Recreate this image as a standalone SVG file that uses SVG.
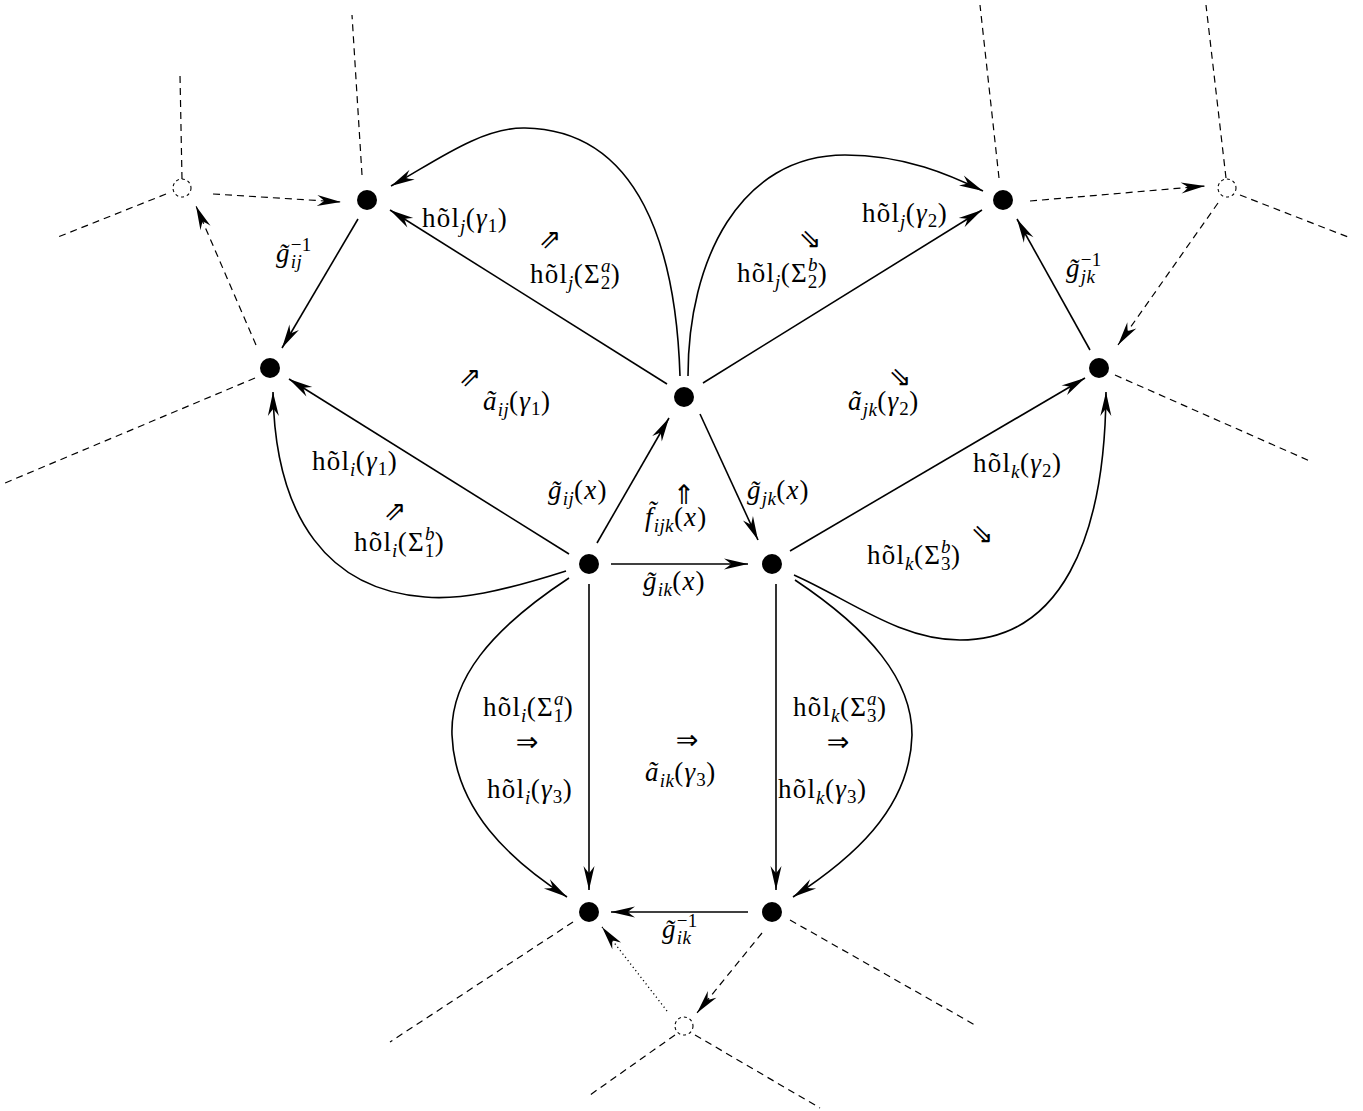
<svg xmlns="http://www.w3.org/2000/svg" width="1363" height="1111" viewBox="0 0 1363 1111">
<style>
.bg{fill:#fff}
.e{fill:none;stroke:#000;stroke-width:1.6}
.d{fill:none;stroke:#000;stroke-width:1.2;stroke-dasharray:7 5}
.o{fill:none;stroke:#000;stroke-width:1.3;stroke-dasharray:1.2 3}
.n{fill:#000}
.p{fill:#fff;stroke:#000;stroke-width:1.1;stroke-dasharray:3 3}
.t{font-size:27px;letter-spacing:1.2px;fill:#000}
.i{font-style:italic}
.u{font-style:normal}
.sb{font-size:19px;letter-spacing:0.4px}
.ar{font-family:'DejaVu Sans',sans-serif;font-size:27px;text-anchor:middle;dominant-baseline:central;fill:#000}
</style>
<defs>
<marker id="ah" viewBox="-26 -7 28 14" refX="0" refY="0" markerWidth="28" markerHeight="14" markerUnits="userSpaceOnUse" orient="auto">
<path d="M0,0 L-24,-5.5 Q-18,-1.2 -17,0 Q-18,1.2 -24,5.5 Z" fill="#000"/>
</marker>
</defs>
<rect class="bg" x="0" y="0" width="1363" height="1111"/>
<g id="connectors">
<line class="d" x1="362" y1="175" x2="352" y2="15"/>
<line class="d" x1="182" y1="179" x2="180" y2="75"/>
<line class="d" x1="166" y1="194" x2="58" y2="237"/>
<line class="d" x1="213" y1="194" x2="341" y2="202" marker-end="url(#ah)"/>
<line class="d" x1="256" y1="345" x2="196" y2="206" marker-end="url(#ah)"/>
<line class="d" x1="255" y1="378" x2="5" y2="483"/>
<line class="d" x1="999" y1="178" x2="980" y2="5"/>
<line class="d" x1="1030" y1="201" x2="1205" y2="186" marker-end="url(#ah)"/>
<line class="d" x1="1226" y1="178" x2="1206" y2="5"/>
<line class="d" x1="1240" y1="195" x2="1348" y2="237"/>
<line class="d" x1="1218" y1="203" x2="1118" y2="345" marker-end="url(#ah)"/>
<line class="d" x1="1115" y1="375" x2="1312" y2="462"/>
<line class="d" x1="573" y1="922" x2="390" y2="1042"/>
<line class="o" x1="667" y1="1011" x2="602" y2="927" marker-end="url(#ah)"/>
<line class="d" x1="762" y1="933" x2="697" y2="1013" marker-end="url(#ah)"/>
<line class="d" x1="790" y1="920" x2="975" y2="1025"/>
<line class="d" x1="675" y1="1035" x2="590" y2="1095"/>
<line class="d" x1="695" y1="1035" x2="820" y2="1108"/>
<line class="e" x1="597" y1="543" x2="669" y2="418" marker-end="url(#ah)"/>
<line class="e" x1="700" y1="414" x2="758" y2="540" marker-end="url(#ah)"/>
<line class="e" x1="611" y1="564" x2="748" y2="564" marker-end="url(#ah)"/>
<line class="e" x1="569" y1="554" x2="289" y2="379" marker-end="url(#ah)"/>
<path class="e" d="M566,571 C500,592 460,600 425,597 C330,590 275,520 273,392" marker-end="url(#ah)"/>
<line class="e" x1="667" y1="384" x2="390" y2="210" marker-end="url(#ah)"/>
<path class="e" d="M680,376 C676,250 640,130 525,128 C480,127 430,165 391,186" marker-end="url(#ah)"/>
<line class="e" x1="358" y1="219" x2="282" y2="348" marker-end="url(#ah)"/>
<line class="e" x1="703" y1="383" x2="982" y2="210" marker-end="url(#ah)"/>
<path class="e" d="M688,376 C688,260 740,155 845,155 C905,155 950,175 983,191" marker-end="url(#ah)"/>
<line class="e" x1="1090" y1="350" x2="1017" y2="219" marker-end="url(#ah)"/>
<line class="e" x1="790" y1="551" x2="1085" y2="378" marker-end="url(#ah)"/>
<path class="e" d="M794,575 C850,600 900,640 960,640 C1060,640 1105,540 1106,392" marker-end="url(#ah)"/>
<line class="e" x1="589" y1="584" x2="589" y2="890" marker-end="url(#ah)"/>
<path class="e" d="M569,578 C490,630 450,680 452,735 C455,810 510,860 567,897" marker-end="url(#ah)"/>
<line class="e" x1="776" y1="584" x2="776" y2="890" marker-end="url(#ah)"/>
<path class="e" d="M795,580 C870,630 912,680 912,735 C910,810 850,860 793,897" marker-end="url(#ah)"/>
<line class="e" x1="748" y1="912" x2="611" y2="912" marker-end="url(#ah)"/>
</g>
<g id="nodes">
<g id="n-i"><circle class="n" cx="589" cy="564" r="10"/></g>
<g id="n-j"><circle class="n" cx="684" cy="397" r="10"/></g>
<g id="n-k"><circle class="n" cx="772" cy="564" r="10"/></g>
<g id="n-j1"><circle class="n" cx="367" cy="200" r="10"/></g>
<g id="n-i1"><circle class="n" cx="270" cy="368" r="10"/></g>
<g id="n-j2"><circle class="n" cx="1003" cy="200" r="10"/></g>
<g id="n-k2"><circle class="n" cx="1099" cy="368" r="10"/></g>
<g id="n-i3"><circle class="n" cx="589" cy="912" r="10"/></g>
<g id="n-k3"><circle class="n" cx="772" cy="912" r="10"/></g>
<g id="p1"><circle class="p" cx="182" cy="188" r="9"/></g>
<g id="p2"><circle class="p" cx="1227" cy="188" r="9"/></g>
<g id="p3"><circle class="p" cx="684" cy="1026" r="9"/></g>
</g>
<g id="labels" font-family="Liberation Serif, Times New Roman, DejaVu Serif, serif">
<text class="t" x="422" y="227">hõl<tspan class="i sb" dy="6">j</tspan><tspan dy="-6">(</tspan><tspan class="i">γ</tspan><tspan class="sb" dy="5">1</tspan><tspan dy="-5">)</tspan></text>
<text class="ar" x="550" y="238">⇗</text>
<text class="t" x="530" y="283">hõl<tspan class="i sb" dy="6">j</tspan><tspan dy="-6">(Σ</tspan><tspan class="i sb" dy="-11">a</tspan><tspan class="sb" dx="-10" dy="17">2</tspan><tspan dy="-6">)</tspan></text>
<text class="ar" x="810" y="238">⇘</text>
<text class="t" x="737" y="282">hõl<tspan class="i sb" dy="6">j</tspan><tspan dy="-6">(Σ</tspan><tspan class="i sb" dy="-11">b</tspan><tspan class="sb" dx="-10" dy="17">2</tspan><tspan dy="-6">)</tspan></text>
<text class="t" x="862" y="222">hõl<tspan class="i sb" dy="6">j</tspan><tspan dy="-6">(</tspan><tspan class="i">γ</tspan><tspan class="sb" dy="5">2</tspan><tspan dy="-5">)</tspan></text>
<text class="t i" x="276" y="262">g&#x303;<tspan class="sb u" dy="-11">−1</tspan><tspan class="sb" dx="-21" dy="17">ij</tspan></text>
<text class="t i" x="1066" y="277">g&#x303;<tspan class="sb u" dy="-11">−1</tspan><tspan class="sb" dx="-21" dy="17">jk</tspan></text>
<text class="ar" x="470" y="376">⇗</text>
<text class="t" x="483" y="410"><tspan class="i">ã</tspan><tspan class="i sb" dy="6">ij</tspan><tspan dy="-6">(</tspan><tspan class="i">γ</tspan><tspan class="sb" dy="5">1</tspan><tspan dy="-5">)</tspan></text>
<text class="ar" x="900" y="376">⇘</text>
<text class="t" x="848" y="410"><tspan class="i">ã</tspan><tspan class="i sb" dy="6">jk</tspan><tspan dy="-6">(</tspan><tspan class="i">γ</tspan><tspan class="sb" dy="5">2</tspan><tspan dy="-5">)</tspan></text>
<text class="t" x="312" y="470">hõl<tspan class="i sb" dy="6">i</tspan><tspan dy="-6">(</tspan><tspan class="i">γ</tspan><tspan class="sb" dy="5">1</tspan><tspan dy="-5">)</tspan></text>
<text class="ar" x="395" y="510">⇗</text>
<text class="t" x="354" y="551">hõl<tspan class="i sb" dy="6">i</tspan><tspan dy="-6">(Σ</tspan><tspan class="i sb" dy="-11">b</tspan><tspan class="sb" dx="-10" dy="17">1</tspan><tspan dy="-6">)</tspan></text>
<text class="t" x="548" y="499"><tspan class="i">g&#x303;</tspan><tspan class="i sb" dy="6">ij</tspan><tspan dy="-6">(</tspan><tspan class="i">x</tspan>)</text>
<text class="ar" x="684" y="494">⇑</text>
<text class="t" x="645" y="526"><tspan class="i">f&#x303;</tspan><tspan class="i sb" dy="6">ijk</tspan><tspan dy="-6">(</tspan><tspan class="i">x</tspan>)</text>
<text class="t" x="747" y="499"><tspan class="i">g&#x303;</tspan><tspan class="i sb" dy="6">jk</tspan><tspan dy="-6">(</tspan><tspan class="i">x</tspan>)</text>
<text class="t" x="643" y="590"><tspan class="i">g&#x303;</tspan><tspan class="i sb" dy="6">ik</tspan><tspan dy="-6">(</tspan><tspan class="i">x</tspan>)</text>
<text class="t" x="973" y="472">hõl<tspan class="i sb" dy="6">k</tspan><tspan dy="-6">(</tspan><tspan class="i">γ</tspan><tspan class="sb" dy="5">2</tspan><tspan dy="-5">)</tspan></text>
<text class="ar" x="982" y="533">⇘</text>
<text class="t" x="867" y="564">hõl<tspan class="i sb" dy="6">k</tspan><tspan dy="-6">(Σ</tspan><tspan class="i sb" dy="-11">b</tspan><tspan class="sb" dx="-10" dy="17">3</tspan><tspan dy="-6">)</tspan></text>
<text class="ar" x="527" y="741">⇒</text>
<text class="t" x="483" y="716">hõl<tspan class="i sb" dy="6">i</tspan><tspan dy="-6">(Σ</tspan><tspan class="i sb" dy="-11">a</tspan><tspan class="sb" dx="-10" dy="17">1</tspan><tspan dy="-6">)</tspan></text>
<text class="t" x="487" y="798">hõl<tspan class="i sb" dy="6">i</tspan><tspan dy="-6">(</tspan><tspan class="i">γ</tspan><tspan class="sb" dy="5">3</tspan><tspan dy="-5">)</tspan></text>
<text class="ar" x="687" y="739">⇒</text>
<text class="t" x="645" y="781"><tspan class="i">ã</tspan><tspan class="i sb" dy="6">ik</tspan><tspan dy="-6">(</tspan><tspan class="i">γ</tspan><tspan class="sb" dy="5">3</tspan><tspan dy="-5">)</tspan></text>
<text class="ar" x="838" y="741">⇒</text>
<text class="t" x="793" y="716">hõl<tspan class="i sb" dy="6">k</tspan><tspan dy="-6">(Σ</tspan><tspan class="i sb" dy="-11">a</tspan><tspan class="sb" dx="-10" dy="17">3</tspan><tspan dy="-6">)</tspan></text>
<text class="t" x="778" y="798">hõl<tspan class="i sb" dy="6">k</tspan><tspan dy="-6">(</tspan><tspan class="i">γ</tspan><tspan class="sb" dy="5">3</tspan><tspan dy="-5">)</tspan></text>
<text class="t i" x="662" y="938">g&#x303;<tspan class="sb u" dy="-11">−1</tspan><tspan class="sb" dx="-21" dy="17">ik</tspan></text>
</g>
</svg>
